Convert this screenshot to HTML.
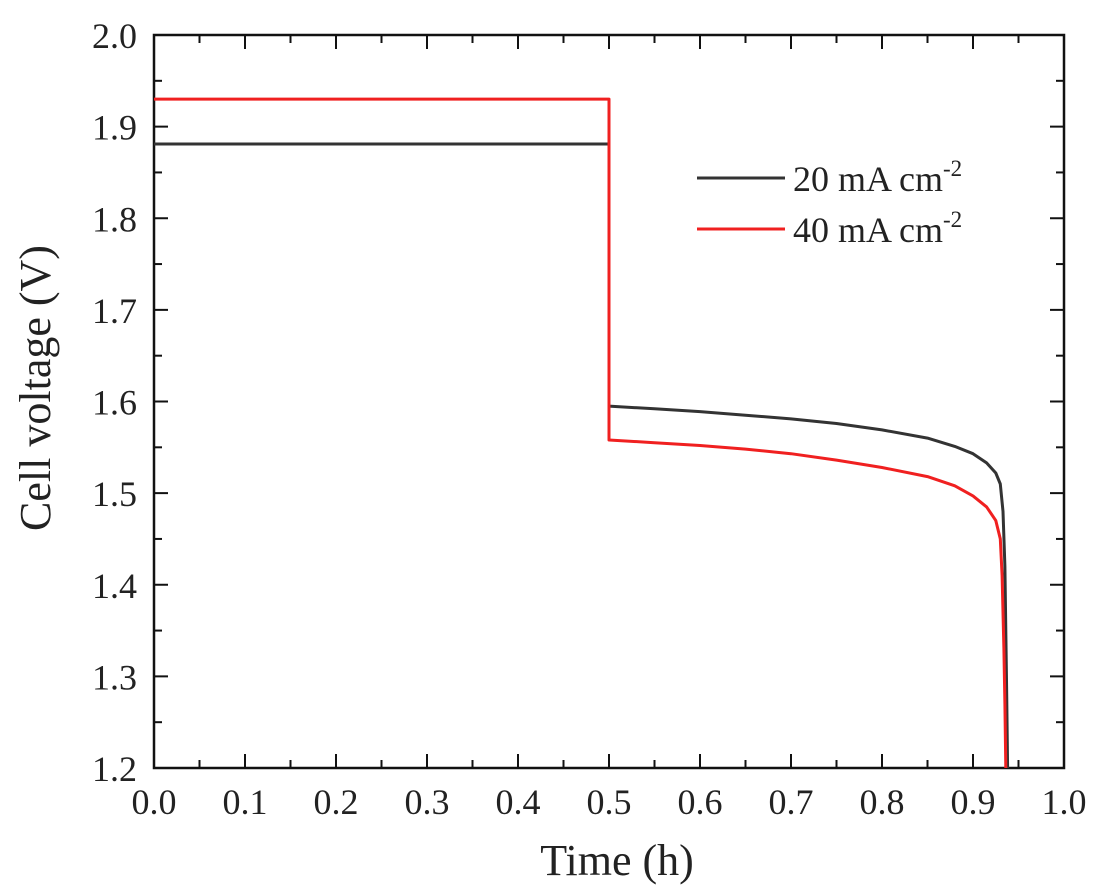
<!DOCTYPE html>
<html><head><meta charset="utf-8"><style>
html,body{margin:0;padding:0;background:#fff;}
svg{display:block;font-family:"Liberation Serif",serif;}
</style></head><body>
<svg id="chart" width="1102" height="895" viewBox="0 0 1102 895" xmlns="http://www.w3.org/2000/svg">
<g id="axes"></g>
<g id="series"></g>
<g id="legend">
  <line x1="697" y1="178" x2="785" y2="178" stroke="#333" stroke-width="3"/>
  <text x="793" y="191" font-size="36" fill="#222">20 mA cm<tspan dy="-15" font-size="23">-2</tspan></text>
  <line x1="697" y1="229" x2="785" y2="229" stroke="#f02020" stroke-width="3"/>
  <text x="793" y="242" font-size="36" fill="#222">40 mA cm<tspan dy="-15" font-size="23">-2</tspan></text>
</g>
<text x="617" y="875" font-size="44" text-anchor="middle" fill="#222">Time (h)</text>
<text transform="translate(50,388) rotate(-90)" font-size="44" text-anchor="middle" fill="#222">Cell voltage (V)</text>
</svg>
<script>
const xTicks = [0.0,0.1,0.2,0.3,0.4,0.5,0.6,0.7,0.8,0.9,1.0];
const yTicks = [1.2,1.3,1.4,1.5,1.6,1.7,1.8,1.9,2.0];
const time20 = [0,0.5,0.5,0.55,0.6,0.65,0.7,0.75,0.8,0.85,0.88,0.9,0.915,0.925,0.93,0.933,0.935,0.936,0.937,0.938];
const volt20 = [1.881,1.881,1.595,1.592,1.589,1.585,1.581,1.576,1.569,1.560,1.551,1.543,1.533,1.522,1.51,1.48,1.42,1.35,1.28,1.2];
const time40 = [0,0.5,0.5,0.55,0.6,0.65,0.7,0.75,0.8,0.85,0.88,0.9,0.915,0.925,0.93,0.932,0.934,0.935,0.936];
const volt40 = [1.93,1.93,1.558,1.555,1.552,1.548,1.543,1.536,1.528,1.518,1.508,1.497,1.485,1.47,1.45,1.41,1.33,1.27,1.2];
const X0=154,X1=1064,Y0=768,Y1=35;
function sx(v){return X0+(v-0)/(1-0)*(X1-X0);}
function sy(v){return Y0-(v-1.2)/(2.0-1.2)*(Y0-Y1);}
const NS="http://www.w3.org/2000/svg";
function mk(tag,attrs,parent){const e=document.createElementNS(NS,tag);for(const k in attrs)e.setAttribute(k,attrs[k]);parent.appendChild(e);return e;}
const axes=document.getElementById('axes');
const frame=mk('rect',{x:X0,y:Y1,width:X1-X0,height:Y0-Y1,fill:'none',stroke:'#111','stroke-width':2.5},axes);


xTicks.forEach((t,i)=>{
  const x=sx(t);
  const tk=mk('line',{x1:x,y1:Y0,x2:x,y2:Y0-14,stroke:'#111','stroke-width':2},axes);
  
  
  const tk2=mk('line',{x1:x,y1:Y1,x2:x,y2:Y1+14,stroke:'#111','stroke-width':2},axes);
  
  
  if(i<xTicks.length-1){const xm=sx(t+0.05);
    const m=mk('line',{x1:xm,y1:Y0,x2:xm,y2:Y0-8,stroke:'#111','stroke-width':2},axes);
    
    
    const m2=mk('line',{x1:xm,y1:Y1,x2:xm,y2:Y1+8,stroke:'#111','stroke-width':2},axes);
    
    }
  const lb=mk('text',{x:x,y:814,'font-size':36,'text-anchor':'middle',fill:'#222'},axes);
  lb.textContent=t.toFixed(1);
  
  
});
yTicks.forEach((t,i)=>{
  const y=sy(t);
  const tk=mk('line',{x1:X0,y1:y,x2:X0+14,y2:y,stroke:'#111','stroke-width':2},axes);
  
  
  const tk2=mk('line',{x1:X1,y1:y,x2:X1-14,y2:y,stroke:'#111','stroke-width':2},axes);
  
  
  if(i<yTicks.length-1){const ym=sy(t+0.05);
    const m=mk('line',{x1:X0,y1:ym,x2:X0+8,y2:ym,stroke:'#111','stroke-width':2},axes);
    
    
    const m2=mk('line',{x1:X1,y1:ym,x2:X1-8,y2:ym,stroke:'#111','stroke-width':2},axes);
    
    }
  const lb=mk('text',{x:137,y:y+13,'font-size':36,'text-anchor':'end',fill:'#222'},axes);
  lb.textContent=t.toFixed(1);
  
  
});
const ser=document.getElementById('series');
function line(xs,ys,color,name){
  const d=xs.map((v,i)=>(i?'L':'M')+sx(v).toFixed(1)+','+sy(ys[i]).toFixed(1)).join(' ');
  const p=mk('path',{d:d,fill:'none',stroke:color,'stroke-width':3,'stroke-linejoin':'round'},ser);
  
  
}
line(time20,volt20,'#333','series-20-ma');
line(time40,volt40,'#f02020','series-40-ma');
</script>
</body></html>
